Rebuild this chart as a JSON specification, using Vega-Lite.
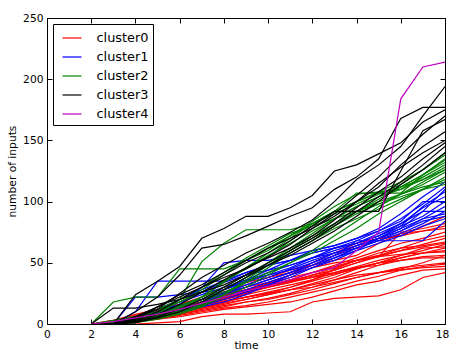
{
"$schema":"https://vega.github.io/schema/vega-lite/v6.json",
"width":398,"height":306,
"autosize":{"type":"none"},
"padding":{"left":47,"top":18,"right":4,"bottom":27},
"background":"white",
"config":{
"view":{"stroke":"black","strokeWidth":1},
"font":"DejaVu Sans",
"axis":{"grid":false,"domain":false,"tickColor":"black","tickSize":-5,"labelColor":"black","labelFont":"DejaVu Sans","labelFontSize":10.7,"titleFont":"DejaVu Sans","titleFontSize":10.7,"titleFontWeight":"normal","titleColor":"black"},
"legend":{"orient":"top-left","offset":6,"strokeColor":"black","fillColor":"white","padding":3.5,"symbolType":"stroke","symbolSize":361,"symbolStrokeWidth":1.2,"labelFontSize":12.9,"labelFont":"DejaVu Sans","labelColor":"black","labelOffset":14,"rowPadding":1,"symbolOffset":5,"cornerRadius":0}
},
"layer":[
{"data":{"values":[
{"c":0,"l":1,"t":2,"v":0},{"c":0,"l":1,"t":3,"v":0},{"c":0,"l":1,"t":4,"v":0},{"c":0,"l":1,"t":5,"v":1},{"c":0,"l":1,"t":6,"v":2},{"c":0,"l":1,"t":7,"v":6},{"c":0,"l":1,"t":8,"v":8},{"c":0,"l":1,"t":9,"v":8},{"c":0,"l":1,"t":10,"v":9},{"c":0,"l":1,"t":11,"v":10},{"c":0,"l":1,"t":12,"v":18},{"c":0,"l":1,"t":13,"v":21},{"c":0,"l":1,"t":14,"v":22},{"c":0,"l":1,"t":15,"v":23},{"c":0,"l":1,"t":16,"v":28},{"c":0,"l":1,"t":17,"v":38},{"c":0,"l":1,"t":18,"v":42},
{"c":0,"l":2,"t":2,"v":0},{"c":0,"l":2,"t":3,"v":0},{"c":0,"l":2,"t":4,"v":2},{"c":0,"l":2,"t":5,"v":4},{"c":0,"l":2,"t":6,"v":6},{"c":0,"l":2,"t":7,"v":9},{"c":0,"l":2,"t":8,"v":12},{"c":0,"l":2,"t":9,"v":14},{"c":0,"l":2,"t":10,"v":16},{"c":0,"l":2,"t":11,"v":18},{"c":0,"l":2,"t":12,"v":22},{"c":0,"l":2,"t":13,"v":27},{"c":0,"l":2,"t":14,"v":32},{"c":0,"l":2,"t":15,"v":35},{"c":0,"l":2,"t":16,"v":40},{"c":0,"l":2,"t":17,"v":44},{"c":0,"l":2,"t":18,"v":45},
{"c":0,"l":3,"t":2,"v":0},{"c":0,"l":3,"t":3,"v":1},{"c":0,"l":3,"t":4,"v":3},{"c":0,"l":3,"t":5,"v":5},{"c":0,"l":3,"t":6,"v":8},{"c":0,"l":3,"t":7,"v":11},{"c":0,"l":3,"t":8,"v":14},{"c":0,"l":3,"t":9,"v":18},{"c":0,"l":3,"t":10,"v":20},{"c":0,"l":3,"t":11,"v":24},{"c":0,"l":3,"t":12,"v":28},{"c":0,"l":3,"t":13,"v":33},{"c":0,"l":3,"t":14,"v":38},{"c":0,"l":3,"t":15,"v":42},{"c":0,"l":3,"t":16,"v":46},{"c":0,"l":3,"t":17,"v":48},{"c":0,"l":3,"t":18,"v":50},
{"c":0,"l":4,"t":2,"v":0},{"c":0,"l":4,"t":3,"v":0},{"c":0,"l":4,"t":4,"v":2},{"c":0,"l":4,"t":5,"v":4},{"c":0,"l":4,"t":6,"v":7},{"c":0,"l":4,"t":7,"v":10},{"c":0,"l":4,"t":8,"v":13},{"c":0,"l":4,"t":9,"v":15},{"c":0,"l":4,"t":10,"v":18},{"c":0,"l":4,"t":11,"v":22},{"c":0,"l":4,"t":12,"v":26},{"c":0,"l":4,"t":13,"v":30},{"c":0,"l":4,"t":14,"v":35},{"c":0,"l":4,"t":15,"v":39},{"c":0,"l":4,"t":16,"v":44},{"c":0,"l":4,"t":17,"v":47},{"c":0,"l":4,"t":18,"v":49},
{"c":0,"l":5,"t":2,"v":0},{"c":0,"l":5,"t":3,"v":2},{"c":0,"l":5,"t":4,"v":4},{"c":0,"l":5,"t":5,"v":7},{"c":0,"l":5,"t":6,"v":10},{"c":0,"l":5,"t":7,"v":13},{"c":0,"l":5,"t":8,"v":17},{"c":0,"l":5,"t":9,"v":20},{"c":0,"l":5,"t":10,"v":24},{"c":0,"l":5,"t":11,"v":28},{"c":0,"l":5,"t":12,"v":33},{"c":0,"l":5,"t":13,"v":38},{"c":0,"l":5,"t":14,"v":45},{"c":0,"l":5,"t":15,"v":50},{"c":0,"l":5,"t":16,"v":52},{"c":0,"l":5,"t":17,"v":55},{"c":0,"l":5,"t":18,"v":56},
{"c":0,"l":6,"t":2,"v":0},{"c":0,"l":6,"t":3,"v":1},{"c":0,"l":6,"t":4,"v":4},{"c":0,"l":6,"t":5,"v":6},{"c":0,"l":6,"t":6,"v":9},{"c":0,"l":6,"t":7,"v":13},{"c":0,"l":6,"t":8,"v":16},{"c":0,"l":6,"t":9,"v":20},{"c":0,"l":6,"t":10,"v":24},{"c":0,"l":6,"t":11,"v":28},{"c":0,"l":6,"t":12,"v":32},{"c":0,"l":6,"t":13,"v":36},{"c":0,"l":6,"t":14,"v":40},{"c":0,"l":6,"t":15,"v":42},{"c":0,"l":6,"t":16,"v":45},{"c":0,"l":6,"t":17,"v":50},{"c":0,"l":6,"t":18,"v":56},
{"c":0,"l":7,"t":2,"v":0},{"c":0,"l":7,"t":3,"v":0},{"c":0,"l":7,"t":4,"v":3},{"c":0,"l":7,"t":5,"v":6},{"c":0,"l":7,"t":6,"v":10},{"c":0,"l":7,"t":7,"v":14},{"c":0,"l":7,"t":8,"v":18},{"c":0,"l":7,"t":9,"v":22},{"c":0,"l":7,"t":10,"v":26},{"c":0,"l":7,"t":11,"v":30},{"c":0,"l":7,"t":12,"v":36},{"c":0,"l":7,"t":13,"v":45},{"c":0,"l":7,"t":14,"v":52},{"c":0,"l":7,"t":15,"v":55},{"c":0,"l":7,"t":16,"v":57},{"c":0,"l":7,"t":17,"v":58},{"c":0,"l":7,"t":18,"v":59},
{"c":0,"l":8,"t":2,"v":0},{"c":0,"l":8,"t":3,"v":2},{"c":0,"l":8,"t":4,"v":5},{"c":0,"l":8,"t":5,"v":9},{"c":0,"l":8,"t":6,"v":12},{"c":0,"l":8,"t":7,"v":16},{"c":0,"l":8,"t":8,"v":20},{"c":0,"l":8,"t":9,"v":24},{"c":0,"l":8,"t":10,"v":28},{"c":0,"l":8,"t":11,"v":32},{"c":0,"l":8,"t":12,"v":36},{"c":0,"l":8,"t":13,"v":42},{"c":0,"l":8,"t":14,"v":46},{"c":0,"l":8,"t":15,"v":48},{"c":0,"l":8,"t":16,"v":54},{"c":0,"l":8,"t":17,"v":58},{"c":0,"l":8,"t":18,"v":60},
{"c":0,"l":9,"t":2,"v":0},{"c":0,"l":9,"t":3,"v":1},{"c":0,"l":9,"t":4,"v":3},{"c":0,"l":9,"t":5,"v":6},{"c":0,"l":9,"t":6,"v":10},{"c":0,"l":9,"t":7,"v":16},{"c":0,"l":9,"t":8,"v":21},{"c":0,"l":9,"t":9,"v":26},{"c":0,"l":9,"t":10,"v":30},{"c":0,"l":9,"t":11,"v":34},{"c":0,"l":9,"t":12,"v":38},{"c":0,"l":9,"t":13,"v":41},{"c":0,"l":9,"t":14,"v":45},{"c":0,"l":9,"t":15,"v":50},{"c":0,"l":9,"t":16,"v":56},{"c":0,"l":9,"t":17,"v":62},{"c":0,"l":9,"t":18,"v":63},
{"c":0,"l":10,"t":2,"v":0},{"c":0,"l":10,"t":3,"v":0},{"c":0,"l":10,"t":4,"v":4},{"c":0,"l":10,"t":5,"v":8},{"c":0,"l":10,"t":6,"v":12},{"c":0,"l":10,"t":7,"v":15},{"c":0,"l":10,"t":8,"v":19},{"c":0,"l":10,"t":9,"v":22},{"c":0,"l":10,"t":10,"v":25},{"c":0,"l":10,"t":11,"v":30},{"c":0,"l":10,"t":12,"v":35},{"c":0,"l":10,"t":13,"v":40},{"c":0,"l":10,"t":14,"v":46},{"c":0,"l":10,"t":15,"v":50},{"c":0,"l":10,"t":16,"v":54},{"c":0,"l":10,"t":17,"v":58},{"c":0,"l":10,"t":18,"v":62},
{"c":0,"l":11,"t":2,"v":0},{"c":0,"l":11,"t":3,"v":2},{"c":0,"l":11,"t":4,"v":6},{"c":0,"l":11,"t":5,"v":10},{"c":0,"l":11,"t":6,"v":14},{"c":0,"l":11,"t":7,"v":18},{"c":0,"l":11,"t":8,"v":22},{"c":0,"l":11,"t":9,"v":27},{"c":0,"l":11,"t":10,"v":32},{"c":0,"l":11,"t":11,"v":36},{"c":0,"l":11,"t":12,"v":39},{"c":0,"l":11,"t":13,"v":42},{"c":0,"l":11,"t":14,"v":47},{"c":0,"l":11,"t":15,"v":52},{"c":0,"l":11,"t":16,"v":56},{"c":0,"l":11,"t":17,"v":60},{"c":0,"l":11,"t":18,"v":65},
{"c":0,"l":12,"t":2,"v":0},{"c":0,"l":12,"t":3,"v":1},{"c":0,"l":12,"t":4,"v":5},{"c":0,"l":12,"t":5,"v":9},{"c":0,"l":12,"t":6,"v":14},{"c":0,"l":12,"t":7,"v":18},{"c":0,"l":12,"t":8,"v":22},{"c":0,"l":12,"t":9,"v":26},{"c":0,"l":12,"t":10,"v":30},{"c":0,"l":12,"t":11,"v":34},{"c":0,"l":12,"t":12,"v":40},{"c":0,"l":12,"t":13,"v":46},{"c":0,"l":12,"t":14,"v":52},{"c":0,"l":12,"t":15,"v":58},{"c":0,"l":12,"t":16,"v":62},{"c":0,"l":12,"t":17,"v":64},{"c":0,"l":12,"t":18,"v":67},
{"c":0,"l":13,"t":2,"v":0},{"c":0,"l":13,"t":3,"v":0},{"c":0,"l":13,"t":4,"v":3},{"c":0,"l":13,"t":5,"v":7},{"c":0,"l":13,"t":6,"v":11},{"c":0,"l":13,"t":7,"v":16},{"c":0,"l":13,"t":8,"v":20},{"c":0,"l":13,"t":9,"v":25},{"c":0,"l":13,"t":10,"v":30},{"c":0,"l":13,"t":11,"v":35},{"c":0,"l":13,"t":12,"v":40},{"c":0,"l":13,"t":13,"v":44},{"c":0,"l":13,"t":14,"v":50},{"c":0,"l":13,"t":15,"v":55},{"c":0,"l":13,"t":16,"v":60},{"c":0,"l":13,"t":17,"v":63},{"c":0,"l":13,"t":18,"v":66},
{"c":0,"l":14,"t":2,"v":0},{"c":0,"l":14,"t":3,"v":2},{"c":0,"l":14,"t":4,"v":6},{"c":0,"l":14,"t":5,"v":11},{"c":0,"l":14,"t":6,"v":16},{"c":0,"l":14,"t":7,"v":20},{"c":0,"l":14,"t":8,"v":24},{"c":0,"l":14,"t":9,"v":28},{"c":0,"l":14,"t":10,"v":32},{"c":0,"l":14,"t":11,"v":35},{"c":0,"l":14,"t":12,"v":38},{"c":0,"l":14,"t":13,"v":44},{"c":0,"l":14,"t":14,"v":50},{"c":0,"l":14,"t":15,"v":56},{"c":0,"l":14,"t":16,"v":60},{"c":0,"l":14,"t":17,"v":65},{"c":0,"l":14,"t":18,"v":70},
{"c":0,"l":15,"t":2,"v":0},{"c":0,"l":15,"t":3,"v":1},{"c":0,"l":15,"t":4,"v":4},{"c":0,"l":15,"t":5,"v":8},{"c":0,"l":15,"t":6,"v":12},{"c":0,"l":15,"t":7,"v":17},{"c":0,"l":15,"t":8,"v":23},{"c":0,"l":15,"t":9,"v":28},{"c":0,"l":15,"t":10,"v":33},{"c":0,"l":15,"t":11,"v":38},{"c":0,"l":15,"t":12,"v":42},{"c":0,"l":15,"t":13,"v":47},{"c":0,"l":15,"t":14,"v":52},{"c":0,"l":15,"t":15,"v":56},{"c":0,"l":15,"t":16,"v":62},{"c":0,"l":15,"t":17,"v":68},{"c":0,"l":15,"t":18,"v":72},
{"c":0,"l":16,"t":2,"v":0},{"c":0,"l":16,"t":3,"v":3},{"c":0,"l":16,"t":4,"v":7},{"c":0,"l":16,"t":5,"v":11},{"c":0,"l":16,"t":6,"v":15},{"c":0,"l":16,"t":7,"v":18},{"c":0,"l":16,"t":8,"v":21},{"c":0,"l":16,"t":9,"v":26},{"c":0,"l":16,"t":10,"v":31},{"c":0,"l":16,"t":11,"v":36},{"c":0,"l":16,"t":12,"v":42},{"c":0,"l":16,"t":13,"v":48},{"c":0,"l":16,"t":14,"v":54},{"c":0,"l":16,"t":15,"v":60},{"c":0,"l":16,"t":16,"v":66},{"c":0,"l":16,"t":17,"v":70},{"c":0,"l":16,"t":18,"v":75},
{"c":0,"l":17,"t":2,"v":0},{"c":0,"l":17,"t":3,"v":2},{"c":0,"l":17,"t":4,"v":6},{"c":0,"l":17,"t":5,"v":10},{"c":0,"l":17,"t":6,"v":15},{"c":0,"l":17,"t":7,"v":20},{"c":0,"l":17,"t":8,"v":25},{"c":0,"l":17,"t":9,"v":30},{"c":0,"l":17,"t":10,"v":34},{"c":0,"l":17,"t":11,"v":40},{"c":0,"l":17,"t":12,"v":50},{"c":0,"l":17,"t":13,"v":58},{"c":0,"l":17,"t":14,"v":66},{"c":0,"l":17,"t":15,"v":70},{"c":0,"l":17,"t":16,"v":72},{"c":0,"l":17,"t":17,"v":76},{"c":0,"l":17,"t":18,"v":78},
{"c":0,"l":18,"t":2,"v":0},{"c":0,"l":18,"t":3,"v":0},{"c":0,"l":18,"t":4,"v":4},{"c":0,"l":18,"t":5,"v":9},{"c":0,"l":18,"t":6,"v":14},{"c":0,"l":18,"t":7,"v":18},{"c":0,"l":18,"t":8,"v":24},{"c":0,"l":18,"t":9,"v":28},{"c":0,"l":18,"t":10,"v":33},{"c":0,"l":18,"t":11,"v":40},{"c":0,"l":18,"t":12,"v":46},{"c":0,"l":18,"t":13,"v":50},{"c":0,"l":18,"t":14,"v":52},{"c":0,"l":18,"t":15,"v":55},{"c":0,"l":18,"t":16,"v":75},{"c":0,"l":18,"t":17,"v":78},{"c":0,"l":18,"t":18,"v":82},
{"c":0,"l":19,"t":2,"v":0},{"c":0,"l":19,"t":3,"v":3},{"c":0,"l":19,"t":4,"v":8},{"c":0,"l":19,"t":5,"v":12},{"c":0,"l":19,"t":6,"v":16},{"c":0,"l":19,"t":7,"v":22},{"c":0,"l":19,"t":8,"v":30},{"c":0,"l":19,"t":9,"v":34},{"c":0,"l":19,"t":10,"v":38},{"c":0,"l":19,"t":11,"v":42},{"c":0,"l":19,"t":12,"v":48},{"c":0,"l":19,"t":13,"v":56},{"c":0,"l":19,"t":14,"v":64},{"c":0,"l":19,"t":15,"v":70},{"c":0,"l":19,"t":16,"v":72},{"c":0,"l":19,"t":17,"v":80},{"c":0,"l":19,"t":18,"v":88},
{"c":0,"l":20,"t":2,"v":0},{"c":0,"l":20,"t":3,"v":1},{"c":0,"l":20,"t":4,"v":5},{"c":0,"l":20,"t":5,"v":10},{"c":0,"l":20,"t":6,"v":15},{"c":0,"l":20,"t":7,"v":20},{"c":0,"l":20,"t":8,"v":26},{"c":0,"l":20,"t":9,"v":32},{"c":0,"l":20,"t":10,"v":38},{"c":0,"l":20,"t":11,"v":44},{"c":0,"l":20,"t":12,"v":48},{"c":0,"l":20,"t":13,"v":52},{"c":0,"l":20,"t":14,"v":56},{"c":0,"l":20,"t":15,"v":66},{"c":0,"l":20,"t":16,"v":74},{"c":0,"l":20,"t":17,"v":76},{"c":0,"l":20,"t":18,"v":80},
{"c":0,"l":21,"t":2,"v":0},{"c":0,"l":21,"t":3,"v":2},{"c":0,"l":21,"t":4,"v":5},{"c":0,"l":21,"t":5,"v":8},{"c":0,"l":21,"t":6,"v":12},{"c":0,"l":21,"t":7,"v":16},{"c":0,"l":21,"t":8,"v":18},{"c":0,"l":21,"t":9,"v":22},{"c":0,"l":21,"t":10,"v":25},{"c":0,"l":21,"t":11,"v":28},{"c":0,"l":21,"t":12,"v":30},{"c":0,"l":21,"t":13,"v":34},{"c":0,"l":21,"t":14,"v":38},{"c":0,"l":21,"t":15,"v":42},{"c":0,"l":21,"t":16,"v":44},{"c":0,"l":21,"t":17,"v":46},{"c":0,"l":21,"t":18,"v":47},
{"c":0,"l":22,"t":2,"v":0},{"c":0,"l":22,"t":3,"v":0},{"c":0,"l":22,"t":4,"v":2},{"c":0,"l":22,"t":5,"v":5},{"c":0,"l":22,"t":6,"v":8},{"c":0,"l":22,"t":7,"v":12},{"c":0,"l":22,"t":8,"v":15},{"c":0,"l":22,"t":9,"v":18},{"c":0,"l":22,"t":10,"v":21},{"c":0,"l":22,"t":11,"v":25},{"c":0,"l":22,"t":12,"v":30},{"c":0,"l":22,"t":13,"v":36},{"c":0,"l":22,"t":14,"v":42},{"c":0,"l":22,"t":15,"v":48},{"c":0,"l":22,"t":16,"v":52},{"c":0,"l":22,"t":17,"v":54},{"c":0,"l":22,"t":18,"v":54},
{"c":1,"l":23,"t":2,"v":0},{"c":1,"l":23,"t":3,"v":0},{"c":1,"l":23,"t":4,"v":10},{"c":1,"l":23,"t":5,"v":35},{"c":1,"l":23,"t":6,"v":35},{"c":1,"l":23,"t":7,"v":35},{"c":1,"l":23,"t":8,"v":35},{"c":1,"l":23,"t":9,"v":42},{"c":1,"l":23,"t":10,"v":48},{"c":1,"l":23,"t":11,"v":52},{"c":1,"l":23,"t":12,"v":58},{"c":1,"l":23,"t":13,"v":62},{"c":1,"l":23,"t":14,"v":66},{"c":1,"l":23,"t":15,"v":74},{"c":1,"l":23,"t":16,"v":82},{"c":1,"l":23,"t":17,"v":92},{"c":1,"l":23,"t":18,"v":92},
{"c":1,"l":24,"t":2,"v":0},{"c":1,"l":24,"t":3,"v":0},{"c":1,"l":24,"t":4,"v":5},{"c":1,"l":24,"t":5,"v":10},{"c":1,"l":24,"t":6,"v":16},{"c":1,"l":24,"t":7,"v":30},{"c":1,"l":24,"t":8,"v":50},{"c":1,"l":24,"t":9,"v":52},{"c":1,"l":24,"t":10,"v":52},{"c":1,"l":24,"t":11,"v":56},{"c":1,"l":24,"t":12,"v":60},{"c":1,"l":24,"t":13,"v":64},{"c":1,"l":24,"t":14,"v":70},{"c":1,"l":24,"t":15,"v":76},{"c":1,"l":24,"t":16,"v":84},{"c":1,"l":24,"t":17,"v":100},{"c":1,"l":24,"t":18,"v":100},
{"c":1,"l":25,"t":2,"v":0},{"c":1,"l":25,"t":3,"v":2},{"c":1,"l":25,"t":4,"v":6},{"c":1,"l":25,"t":5,"v":10},{"c":1,"l":25,"t":6,"v":15},{"c":1,"l":25,"t":7,"v":20},{"c":1,"l":25,"t":8,"v":28},{"c":1,"l":25,"t":9,"v":36},{"c":1,"l":25,"t":10,"v":44},{"c":1,"l":25,"t":11,"v":52},{"c":1,"l":25,"t":12,"v":60},{"c":1,"l":25,"t":13,"v":64},{"c":1,"l":25,"t":14,"v":70},{"c":1,"l":25,"t":15,"v":78},{"c":1,"l":25,"t":16,"v":90},{"c":1,"l":25,"t":17,"v":104},{"c":1,"l":25,"t":18,"v":116},
{"c":1,"l":26,"t":2,"v":0},{"c":1,"l":26,"t":3,"v":0},{"c":1,"l":26,"t":4,"v":3},{"c":1,"l":26,"t":5,"v":8},{"c":1,"l":26,"t":6,"v":12},{"c":1,"l":26,"t":7,"v":18},{"c":1,"l":26,"t":8,"v":25},{"c":1,"l":26,"t":9,"v":32},{"c":1,"l":26,"t":10,"v":38},{"c":1,"l":26,"t":11,"v":45},{"c":1,"l":26,"t":12,"v":52},{"c":1,"l":26,"t":13,"v":58},{"c":1,"l":26,"t":14,"v":64},{"c":1,"l":26,"t":15,"v":70},{"c":1,"l":26,"t":16,"v":78},{"c":1,"l":26,"t":17,"v":92},{"c":1,"l":26,"t":18,"v":110},
{"c":1,"l":27,"t":2,"v":0},{"c":1,"l":27,"t":3,"v":0},{"c":1,"l":27,"t":4,"v":4},{"c":1,"l":27,"t":5,"v":8},{"c":1,"l":27,"t":6,"v":14},{"c":1,"l":27,"t":7,"v":20},{"c":1,"l":27,"t":8,"v":26},{"c":1,"l":27,"t":9,"v":30},{"c":1,"l":27,"t":10,"v":36},{"c":1,"l":27,"t":11,"v":42},{"c":1,"l":27,"t":12,"v":48},{"c":1,"l":27,"t":13,"v":56},{"c":1,"l":27,"t":14,"v":68},{"c":1,"l":27,"t":15,"v":68},{"c":1,"l":27,"t":16,"v":68},{"c":1,"l":27,"t":17,"v":68},{"c":1,"l":27,"t":18,"v":84},
{"c":1,"l":28,"t":2,"v":0},{"c":1,"l":28,"t":3,"v":0},{"c":1,"l":28,"t":4,"v":2},{"c":1,"l":28,"t":5,"v":6},{"c":1,"l":28,"t":6,"v":12},{"c":1,"l":28,"t":7,"v":18},{"c":1,"l":28,"t":8,"v":24},{"c":1,"l":28,"t":9,"v":30},{"c":1,"l":28,"t":10,"v":36},{"c":1,"l":28,"t":11,"v":42},{"c":1,"l":28,"t":12,"v":50},{"c":1,"l":28,"t":13,"v":58},{"c":1,"l":28,"t":14,"v":64},{"c":1,"l":28,"t":15,"v":70},{"c":1,"l":28,"t":16,"v":76},{"c":1,"l":28,"t":17,"v":86},{"c":1,"l":28,"t":18,"v":96},
{"c":1,"l":29,"t":2,"v":0},{"c":1,"l":29,"t":3,"v":1},{"c":1,"l":29,"t":4,"v":4},{"c":1,"l":29,"t":5,"v":9},{"c":1,"l":29,"t":6,"v":14},{"c":1,"l":29,"t":7,"v":20},{"c":1,"l":29,"t":8,"v":28},{"c":1,"l":29,"t":9,"v":35},{"c":1,"l":29,"t":10,"v":42},{"c":1,"l":29,"t":11,"v":48},{"c":1,"l":29,"t":12,"v":54},{"c":1,"l":29,"t":13,"v":60},{"c":1,"l":29,"t":14,"v":66},{"c":1,"l":29,"t":15,"v":72},{"c":1,"l":29,"t":16,"v":80},{"c":1,"l":29,"t":17,"v":88},{"c":1,"l":29,"t":18,"v":100},
{"c":1,"l":30,"t":2,"v":0},{"c":1,"l":30,"t":3,"v":0},{"c":1,"l":30,"t":4,"v":6},{"c":1,"l":30,"t":5,"v":12},{"c":1,"l":30,"t":6,"v":18},{"c":1,"l":30,"t":7,"v":24},{"c":1,"l":30,"t":8,"v":30},{"c":1,"l":30,"t":9,"v":36},{"c":1,"l":30,"t":10,"v":40},{"c":1,"l":30,"t":11,"v":44},{"c":1,"l":30,"t":12,"v":50},{"c":1,"l":30,"t":13,"v":56},{"c":1,"l":30,"t":14,"v":62},{"c":1,"l":30,"t":15,"v":68},{"c":1,"l":30,"t":16,"v":74},{"c":1,"l":30,"t":17,"v":82},{"c":1,"l":30,"t":18,"v":92},
{"c":1,"l":31,"t":2,"v":0},{"c":1,"l":31,"t":3,"v":0},{"c":1,"l":31,"t":4,"v":2},{"c":1,"l":31,"t":5,"v":5},{"c":1,"l":31,"t":6,"v":10},{"c":1,"l":31,"t":7,"v":16},{"c":1,"l":31,"t":8,"v":22},{"c":1,"l":31,"t":9,"v":28},{"c":1,"l":31,"t":10,"v":34},{"c":1,"l":31,"t":11,"v":40},{"c":1,"l":31,"t":12,"v":46},{"c":1,"l":31,"t":13,"v":52},{"c":1,"l":31,"t":14,"v":60},{"c":1,"l":31,"t":15,"v":70},{"c":1,"l":31,"t":16,"v":80},{"c":1,"l":31,"t":17,"v":96},{"c":1,"l":31,"t":18,"v":108},
{"c":1,"l":32,"t":2,"v":0},{"c":1,"l":32,"t":3,"v":0},{"c":1,"l":32,"t":4,"v":3},{"c":1,"l":32,"t":5,"v":7},{"c":1,"l":32,"t":6,"v":11},{"c":1,"l":32,"t":7,"v":15},{"c":1,"l":32,"t":8,"v":20},{"c":1,"l":32,"t":9,"v":26},{"c":1,"l":32,"t":10,"v":32},{"c":1,"l":32,"t":11,"v":38},{"c":1,"l":32,"t":12,"v":46},{"c":1,"l":32,"t":13,"v":54},{"c":1,"l":32,"t":14,"v":62},{"c":1,"l":32,"t":15,"v":70},{"c":1,"l":32,"t":16,"v":78},{"c":1,"l":32,"t":17,"v":86},{"c":1,"l":32,"t":18,"v":90},
{"c":1,"l":33,"t":2,"v":0},{"c":1,"l":33,"t":3,"v":0},{"c":1,"l":33,"t":4,"v":4},{"c":1,"l":33,"t":5,"v":10},{"c":1,"l":33,"t":6,"v":18},{"c":1,"l":33,"t":7,"v":26},{"c":1,"l":33,"t":8,"v":34},{"c":1,"l":33,"t":9,"v":40},{"c":1,"l":33,"t":10,"v":44},{"c":1,"l":33,"t":11,"v":48},{"c":1,"l":33,"t":12,"v":54},{"c":1,"l":33,"t":13,"v":58},{"c":1,"l":33,"t":14,"v":62},{"c":1,"l":33,"t":15,"v":68},{"c":1,"l":33,"t":16,"v":76},{"c":1,"l":33,"t":17,"v":84},{"c":1,"l":33,"t":18,"v":88},
{"c":1,"l":34,"t":2,"v":0},{"c":1,"l":34,"t":3,"v":0},{"c":1,"l":34,"t":4,"v":2},{"c":1,"l":34,"t":5,"v":6},{"c":1,"l":34,"t":6,"v":10},{"c":1,"l":34,"t":7,"v":14},{"c":1,"l":34,"t":8,"v":18},{"c":1,"l":34,"t":9,"v":24},{"c":1,"l":34,"t":10,"v":32},{"c":1,"l":34,"t":11,"v":40},{"c":1,"l":34,"t":12,"v":48},{"c":1,"l":34,"t":13,"v":54},{"c":1,"l":34,"t":14,"v":60},{"c":1,"l":34,"t":15,"v":66},{"c":1,"l":34,"t":16,"v":72},{"c":1,"l":34,"t":17,"v":80},{"c":1,"l":34,"t":18,"v":86},
{"c":1,"l":35,"t":2,"v":0},{"c":1,"l":35,"t":3,"v":1},{"c":1,"l":35,"t":4,"v":5},{"c":1,"l":35,"t":5,"v":12},{"c":1,"l":35,"t":6,"v":20},{"c":1,"l":35,"t":7,"v":28},{"c":1,"l":35,"t":8,"v":35},{"c":1,"l":35,"t":9,"v":42},{"c":1,"l":35,"t":10,"v":48},{"c":1,"l":35,"t":11,"v":52},{"c":1,"l":35,"t":12,"v":58},{"c":1,"l":35,"t":13,"v":62},{"c":1,"l":35,"t":14,"v":66},{"c":1,"l":35,"t":15,"v":72},{"c":1,"l":35,"t":16,"v":82},{"c":1,"l":35,"t":17,"v":95},{"c":1,"l":35,"t":18,"v":104},
{"c":1,"l":36,"t":2,"v":0},{"c":1,"l":36,"t":3,"v":0},{"c":1,"l":36,"t":4,"v":22},{"c":1,"l":36,"t":5,"v":22},{"c":1,"l":36,"t":6,"v":24},{"c":1,"l":36,"t":7,"v":26},{"c":1,"l":36,"t":8,"v":28},{"c":1,"l":36,"t":9,"v":34},{"c":1,"l":36,"t":10,"v":40},{"c":1,"l":36,"t":11,"v":46},{"c":1,"l":36,"t":12,"v":54},{"c":1,"l":36,"t":13,"v":62},{"c":1,"l":36,"t":14,"v":68},{"c":1,"l":36,"t":15,"v":76},{"c":1,"l":36,"t":16,"v":86},{"c":1,"l":36,"t":17,"v":98},{"c":1,"l":36,"t":18,"v":112},
{"c":2,"l":37,"t":2,"v":0},{"c":2,"l":37,"t":3,"v":18},{"c":2,"l":37,"t":4,"v":22},{"c":2,"l":37,"t":5,"v":22},{"c":2,"l":37,"t":6,"v":45},{"c":2,"l":37,"t":7,"v":45},{"c":2,"l":37,"t":8,"v":45},{"c":2,"l":37,"t":9,"v":52},{"c":2,"l":37,"t":10,"v":60},{"c":2,"l":37,"t":11,"v":72},{"c":2,"l":37,"t":12,"v":84},{"c":2,"l":37,"t":13,"v":96},{"c":2,"l":37,"t":14,"v":106},{"c":2,"l":37,"t":15,"v":108},{"c":2,"l":37,"t":16,"v":110},{"c":2,"l":37,"t":17,"v":120},{"c":2,"l":37,"t":18,"v":130},
{"c":2,"l":38,"t":2,"v":0},{"c":2,"l":38,"t":3,"v":0},{"c":2,"l":38,"t":4,"v":2},{"c":2,"l":38,"t":5,"v":8},{"c":2,"l":38,"t":6,"v":20},{"c":2,"l":38,"t":7,"v":51},{"c":2,"l":38,"t":8,"v":66},{"c":2,"l":38,"t":9,"v":77},{"c":2,"l":38,"t":10,"v":77},{"c":2,"l":38,"t":11,"v":77},{"c":2,"l":38,"t":12,"v":82},{"c":2,"l":38,"t":13,"v":92},{"c":2,"l":38,"t":14,"v":100},{"c":2,"l":38,"t":15,"v":107},{"c":2,"l":38,"t":16,"v":112},{"c":2,"l":38,"t":17,"v":118},{"c":2,"l":38,"t":18,"v":126},
{"c":2,"l":39,"t":2,"v":0},{"c":2,"l":39,"t":3,"v":0},{"c":2,"l":39,"t":4,"v":1},{"c":2,"l":39,"t":5,"v":5},{"c":2,"l":39,"t":6,"v":12},{"c":2,"l":39,"t":7,"v":22},{"c":2,"l":39,"t":8,"v":35},{"c":2,"l":39,"t":9,"v":45},{"c":2,"l":39,"t":10,"v":55},{"c":2,"l":39,"t":11,"v":68},{"c":2,"l":39,"t":12,"v":80},{"c":2,"l":39,"t":13,"v":92},{"c":2,"l":39,"t":14,"v":107},{"c":2,"l":39,"t":15,"v":107},{"c":2,"l":39,"t":16,"v":107},{"c":2,"l":39,"t":17,"v":122},{"c":2,"l":39,"t":18,"v":135},
{"c":2,"l":40,"t":2,"v":0},{"c":2,"l":40,"t":3,"v":3},{"c":2,"l":40,"t":4,"v":6},{"c":2,"l":40,"t":5,"v":10},{"c":2,"l":40,"t":6,"v":15},{"c":2,"l":40,"t":7,"v":22},{"c":2,"l":40,"t":8,"v":30},{"c":2,"l":40,"t":9,"v":40},{"c":2,"l":40,"t":10,"v":50},{"c":2,"l":40,"t":11,"v":60},{"c":2,"l":40,"t":12,"v":70},{"c":2,"l":40,"t":13,"v":80},{"c":2,"l":40,"t":14,"v":90},{"c":2,"l":40,"t":15,"v":98},{"c":2,"l":40,"t":16,"v":106},{"c":2,"l":40,"t":17,"v":114},{"c":2,"l":40,"t":18,"v":124},
{"c":2,"l":41,"t":2,"v":0},{"c":2,"l":41,"t":3,"v":0},{"c":2,"l":41,"t":4,"v":3},{"c":2,"l":41,"t":5,"v":7},{"c":2,"l":41,"t":6,"v":12},{"c":2,"l":41,"t":7,"v":18},{"c":2,"l":41,"t":8,"v":28},{"c":2,"l":41,"t":9,"v":38},{"c":2,"l":41,"t":10,"v":50},{"c":2,"l":41,"t":11,"v":62},{"c":2,"l":41,"t":12,"v":74},{"c":2,"l":41,"t":13,"v":86},{"c":2,"l":41,"t":14,"v":96},{"c":2,"l":41,"t":15,"v":104},{"c":2,"l":41,"t":16,"v":110},{"c":2,"l":41,"t":17,"v":118},{"c":2,"l":41,"t":18,"v":128},
{"c":2,"l":42,"t":2,"v":0},{"c":2,"l":42,"t":3,"v":2},{"c":2,"l":42,"t":4,"v":5},{"c":2,"l":42,"t":5,"v":9},{"c":2,"l":42,"t":6,"v":14},{"c":2,"l":42,"t":7,"v":20},{"c":2,"l":42,"t":8,"v":28},{"c":2,"l":42,"t":9,"v":38},{"c":2,"l":42,"t":10,"v":48},{"c":2,"l":42,"t":11,"v":58},{"c":2,"l":42,"t":12,"v":68},{"c":2,"l":42,"t":13,"v":80},{"c":2,"l":42,"t":14,"v":92},{"c":2,"l":42,"t":15,"v":102},{"c":2,"l":42,"t":16,"v":112},{"c":2,"l":42,"t":17,"v":122},{"c":2,"l":42,"t":18,"v":132},
{"c":2,"l":43,"t":2,"v":0},{"c":2,"l":43,"t":3,"v":0},{"c":2,"l":43,"t":4,"v":4},{"c":2,"l":43,"t":5,"v":8},{"c":2,"l":43,"t":6,"v":13},{"c":2,"l":43,"t":7,"v":22},{"c":2,"l":43,"t":8,"v":34},{"c":2,"l":43,"t":9,"v":46},{"c":2,"l":43,"t":10,"v":58},{"c":2,"l":43,"t":11,"v":70},{"c":2,"l":43,"t":12,"v":82},{"c":2,"l":43,"t":13,"v":92},{"c":2,"l":43,"t":14,"v":100},{"c":2,"l":43,"t":15,"v":108},{"c":2,"l":43,"t":16,"v":116},{"c":2,"l":43,"t":17,"v":126},{"c":2,"l":43,"t":18,"v":138},
{"c":2,"l":44,"t":2,"v":0},{"c":2,"l":44,"t":3,"v":1},{"c":2,"l":44,"t":4,"v":3},{"c":2,"l":44,"t":5,"v":6},{"c":2,"l":44,"t":6,"v":10},{"c":2,"l":44,"t":7,"v":16},{"c":2,"l":44,"t":8,"v":24},{"c":2,"l":44,"t":9,"v":34},{"c":2,"l":44,"t":10,"v":46},{"c":2,"l":44,"t":11,"v":58},{"c":2,"l":44,"t":12,"v":68},{"c":2,"l":44,"t":13,"v":78},{"c":2,"l":44,"t":14,"v":86},{"c":2,"l":44,"t":15,"v":94},{"c":2,"l":44,"t":16,"v":102},{"c":2,"l":44,"t":17,"v":110},{"c":2,"l":44,"t":18,"v":120},
{"c":2,"l":45,"t":2,"v":0},{"c":2,"l":45,"t":3,"v":0},{"c":2,"l":45,"t":4,"v":2},{"c":2,"l":45,"t":5,"v":5},{"c":2,"l":45,"t":6,"v":9},{"c":2,"l":45,"t":7,"v":15},{"c":2,"l":45,"t":8,"v":22},{"c":2,"l":45,"t":9,"v":30},{"c":2,"l":45,"t":10,"v":40},{"c":2,"l":45,"t":11,"v":50},{"c":2,"l":45,"t":12,"v":60},{"c":2,"l":45,"t":13,"v":72},{"c":2,"l":45,"t":14,"v":84},{"c":2,"l":45,"t":15,"v":96},{"c":2,"l":45,"t":16,"v":106},{"c":2,"l":45,"t":17,"v":116},{"c":2,"l":45,"t":18,"v":126},
{"c":2,"l":46,"t":2,"v":0},{"c":2,"l":46,"t":3,"v":2},{"c":2,"l":46,"t":4,"v":6},{"c":2,"l":46,"t":5,"v":12},{"c":2,"l":46,"t":6,"v":18},{"c":2,"l":46,"t":7,"v":26},{"c":2,"l":46,"t":8,"v":36},{"c":2,"l":46,"t":9,"v":46},{"c":2,"l":46,"t":10,"v":56},{"c":2,"l":46,"t":11,"v":66},{"c":2,"l":46,"t":12,"v":76},{"c":2,"l":46,"t":13,"v":86},{"c":2,"l":46,"t":14,"v":96},{"c":2,"l":46,"t":15,"v":104},{"c":2,"l":46,"t":16,"v":112},{"c":2,"l":46,"t":17,"v":122},{"c":2,"l":46,"t":18,"v":134},
{"c":2,"l":47,"t":2,"v":0},{"c":2,"l":47,"t":3,"v":0},{"c":2,"l":47,"t":4,"v":1},{"c":2,"l":47,"t":5,"v":4},{"c":2,"l":47,"t":6,"v":8},{"c":2,"l":47,"t":7,"v":14},{"c":2,"l":47,"t":8,"v":24},{"c":2,"l":47,"t":9,"v":36},{"c":2,"l":47,"t":10,"v":48},{"c":2,"l":47,"t":11,"v":60},{"c":2,"l":47,"t":12,"v":72},{"c":2,"l":47,"t":13,"v":82},{"c":2,"l":47,"t":14,"v":92},{"c":2,"l":47,"t":15,"v":100},{"c":2,"l":47,"t":16,"v":106},{"c":2,"l":47,"t":17,"v":112},{"c":2,"l":47,"t":18,"v":116},
{"c":2,"l":48,"t":2,"v":0},{"c":2,"l":48,"t":3,"v":1},{"c":2,"l":48,"t":4,"v":4},{"c":2,"l":48,"t":5,"v":10},{"c":2,"l":48,"t":6,"v":18},{"c":2,"l":48,"t":7,"v":28},{"c":2,"l":48,"t":8,"v":40},{"c":2,"l":48,"t":9,"v":52},{"c":2,"l":48,"t":10,"v":62},{"c":2,"l":48,"t":11,"v":72},{"c":2,"l":48,"t":12,"v":82},{"c":2,"l":48,"t":13,"v":90},{"c":2,"l":48,"t":14,"v":98},{"c":2,"l":48,"t":15,"v":106},{"c":2,"l":48,"t":16,"v":114},{"c":2,"l":48,"t":17,"v":126},{"c":2,"l":48,"t":18,"v":140},
{"c":2,"l":49,"t":2,"v":0},{"c":2,"l":49,"t":3,"v":0},{"c":2,"l":49,"t":4,"v":2},{"c":2,"l":49,"t":5,"v":6},{"c":2,"l":49,"t":6,"v":11},{"c":2,"l":49,"t":7,"v":18},{"c":2,"l":49,"t":8,"v":26},{"c":2,"l":49,"t":9,"v":34},{"c":2,"l":49,"t":10,"v":42},{"c":2,"l":49,"t":11,"v":50},{"c":2,"l":49,"t":12,"v":58},{"c":2,"l":49,"t":13,"v":68},{"c":2,"l":49,"t":14,"v":78},{"c":2,"l":49,"t":15,"v":90},{"c":2,"l":49,"t":16,"v":100},{"c":2,"l":49,"t":17,"v":110},{"c":2,"l":49,"t":18,"v":118},
{"c":2,"l":50,"t":2,"v":0},{"c":2,"l":50,"t":3,"v":0},{"c":2,"l":50,"t":4,"v":5},{"c":2,"l":50,"t":5,"v":12},{"c":2,"l":50,"t":6,"v":20},{"c":2,"l":50,"t":7,"v":30},{"c":2,"l":50,"t":8,"v":42},{"c":2,"l":50,"t":9,"v":54},{"c":2,"l":50,"t":10,"v":64},{"c":2,"l":50,"t":11,"v":74},{"c":2,"l":50,"t":12,"v":80},{"c":2,"l":50,"t":13,"v":86},{"c":2,"l":50,"t":14,"v":92},{"c":2,"l":50,"t":15,"v":98},{"c":2,"l":50,"t":16,"v":104},{"c":2,"l":50,"t":17,"v":110},{"c":2,"l":50,"t":18,"v":114},
{"c":3,"l":51,"t":2,"v":0},{"c":3,"l":51,"t":3,"v":0},{"c":3,"l":51,"t":4,"v":24},{"c":3,"l":51,"t":5,"v":35},{"c":3,"l":51,"t":6,"v":47},{"c":3,"l":51,"t":7,"v":70},{"c":3,"l":51,"t":8,"v":78},{"c":3,"l":51,"t":9,"v":88},{"c":3,"l":51,"t":10,"v":88},{"c":3,"l":51,"t":11,"v":95},{"c":3,"l":51,"t":12,"v":105},{"c":3,"l":51,"t":13,"v":125},{"c":3,"l":51,"t":14,"v":130},{"c":3,"l":51,"t":15,"v":139},{"c":3,"l":51,"t":16,"v":148},{"c":3,"l":51,"t":17,"v":165},{"c":3,"l":51,"t":18,"v":175},
{"c":3,"l":52,"t":2,"v":0},{"c":3,"l":52,"t":3,"v":0},{"c":3,"l":52,"t":4,"v":10},{"c":3,"l":52,"t":5,"v":22},{"c":3,"l":52,"t":6,"v":40},{"c":3,"l":52,"t":7,"v":62},{"c":3,"l":52,"t":8,"v":65},{"c":3,"l":52,"t":9,"v":72},{"c":3,"l":52,"t":10,"v":80},{"c":3,"l":52,"t":11,"v":88},{"c":3,"l":52,"t":12,"v":95},{"c":3,"l":52,"t":13,"v":110},{"c":3,"l":52,"t":14,"v":120},{"c":3,"l":52,"t":15,"v":135},{"c":3,"l":52,"t":16,"v":168},{"c":3,"l":52,"t":17,"v":177},{"c":3,"l":52,"t":18,"v":177},
{"c":3,"l":53,"t":2,"v":0},{"c":3,"l":53,"t":3,"v":0},{"c":3,"l":53,"t":4,"v":5},{"c":3,"l":53,"t":5,"v":12},{"c":3,"l":53,"t":6,"v":25},{"c":3,"l":53,"t":7,"v":38},{"c":3,"l":53,"t":8,"v":48},{"c":3,"l":53,"t":9,"v":58},{"c":3,"l":53,"t":10,"v":66},{"c":3,"l":53,"t":11,"v":75},{"c":3,"l":53,"t":12,"v":85},{"c":3,"l":53,"t":13,"v":100},{"c":3,"l":53,"t":14,"v":118},{"c":3,"l":53,"t":15,"v":130},{"c":3,"l":53,"t":16,"v":145},{"c":3,"l":53,"t":17,"v":170},{"c":3,"l":53,"t":18,"v":194},
{"c":3,"l":54,"t":2,"v":0},{"c":3,"l":54,"t":3,"v":0},{"c":3,"l":54,"t":4,"v":3},{"c":3,"l":54,"t":5,"v":10},{"c":3,"l":54,"t":6,"v":20},{"c":3,"l":54,"t":7,"v":30},{"c":3,"l":54,"t":8,"v":40},{"c":3,"l":54,"t":9,"v":50},{"c":3,"l":54,"t":10,"v":58},{"c":3,"l":54,"t":11,"v":68},{"c":3,"l":54,"t":12,"v":80},{"c":3,"l":54,"t":13,"v":92},{"c":3,"l":54,"t":14,"v":92},{"c":3,"l":54,"t":15,"v":92},{"c":3,"l":54,"t":16,"v":125},{"c":3,"l":54,"t":17,"v":158},{"c":3,"l":54,"t":18,"v":167},
{"c":3,"l":55,"t":2,"v":0},{"c":3,"l":55,"t":3,"v":0},{"c":3,"l":55,"t":4,"v":2},{"c":3,"l":55,"t":5,"v":8},{"c":3,"l":55,"t":6,"v":16},{"c":3,"l":55,"t":7,"v":26},{"c":3,"l":55,"t":8,"v":36},{"c":3,"l":55,"t":9,"v":46},{"c":3,"l":55,"t":10,"v":54},{"c":3,"l":55,"t":11,"v":62},{"c":3,"l":55,"t":12,"v":72},{"c":3,"l":55,"t":13,"v":85},{"c":3,"l":55,"t":14,"v":100},{"c":3,"l":55,"t":15,"v":112},{"c":3,"l":55,"t":16,"v":130},{"c":3,"l":55,"t":17,"v":145},{"c":3,"l":55,"t":18,"v":157},
{"c":3,"l":56,"t":2,"v":0},{"c":3,"l":56,"t":3,"v":0},{"c":3,"l":56,"t":4,"v":4},{"c":3,"l":56,"t":5,"v":14},{"c":3,"l":56,"t":6,"v":24},{"c":3,"l":56,"t":7,"v":32},{"c":3,"l":56,"t":8,"v":42},{"c":3,"l":56,"t":9,"v":52},{"c":3,"l":56,"t":10,"v":62},{"c":3,"l":56,"t":11,"v":70},{"c":3,"l":56,"t":12,"v":78},{"c":3,"l":56,"t":13,"v":88},{"c":3,"l":56,"t":14,"v":100},{"c":3,"l":56,"t":15,"v":115},{"c":3,"l":56,"t":16,"v":128},{"c":3,"l":56,"t":17,"v":140},{"c":3,"l":56,"t":18,"v":150},
{"c":3,"l":57,"t":2,"v":0},{"c":3,"l":57,"t":3,"v":0},{"c":3,"l":57,"t":4,"v":2},{"c":3,"l":57,"t":5,"v":6},{"c":3,"l":57,"t":6,"v":12},{"c":3,"l":57,"t":7,"v":20},{"c":3,"l":57,"t":8,"v":30},{"c":3,"l":57,"t":9,"v":40},{"c":3,"l":57,"t":10,"v":50},{"c":3,"l":57,"t":11,"v":60},{"c":3,"l":57,"t":12,"v":70},{"c":3,"l":57,"t":13,"v":82},{"c":3,"l":57,"t":14,"v":95},{"c":3,"l":57,"t":15,"v":108},{"c":3,"l":57,"t":16,"v":120},{"c":3,"l":57,"t":17,"v":135},{"c":3,"l":57,"t":18,"v":148},
{"c":3,"l":58,"t":2,"v":0},{"c":3,"l":58,"t":3,"v":0},{"c":3,"l":58,"t":4,"v":6},{"c":3,"l":58,"t":5,"v":14},{"c":3,"l":58,"t":6,"v":22},{"c":3,"l":58,"t":7,"v":30},{"c":3,"l":58,"t":8,"v":38},{"c":3,"l":58,"t":9,"v":45},{"c":3,"l":58,"t":10,"v":55},{"c":3,"l":58,"t":11,"v":65},{"c":3,"l":58,"t":12,"v":78},{"c":3,"l":58,"t":13,"v":90},{"c":3,"l":58,"t":14,"v":105},{"c":3,"l":58,"t":15,"v":120},{"c":3,"l":58,"t":16,"v":138},{"c":3,"l":58,"t":17,"v":155},{"c":3,"l":58,"t":18,"v":170},
{"c":3,"l":59,"t":2,"v":0},{"c":3,"l":59,"t":3,"v":13},{"c":3,"l":59,"t":4,"v":13},{"c":3,"l":59,"t":5,"v":16},{"c":3,"l":59,"t":6,"v":20},{"c":3,"l":59,"t":7,"v":26},{"c":3,"l":59,"t":8,"v":32},{"c":3,"l":59,"t":9,"v":40},{"c":3,"l":59,"t":10,"v":48},{"c":3,"l":59,"t":11,"v":58},{"c":3,"l":59,"t":12,"v":68},{"c":3,"l":59,"t":13,"v":80},{"c":3,"l":59,"t":14,"v":92},{"c":3,"l":59,"t":15,"v":104},{"c":3,"l":59,"t":16,"v":116},{"c":3,"l":59,"t":17,"v":130},{"c":3,"l":59,"t":18,"v":145},
{"c":3,"l":60,"t":2,"v":0},{"c":3,"l":60,"t":3,"v":0},{"c":3,"l":60,"t":4,"v":1},{"c":3,"l":60,"t":5,"v":5},{"c":3,"l":60,"t":6,"v":10},{"c":3,"l":60,"t":7,"v":18},{"c":3,"l":60,"t":8,"v":28},{"c":3,"l":60,"t":9,"v":38},{"c":3,"l":60,"t":10,"v":48},{"c":3,"l":60,"t":11,"v":56},{"c":3,"l":60,"t":12,"v":66},{"c":3,"l":60,"t":13,"v":76},{"c":3,"l":60,"t":14,"v":88},{"c":3,"l":60,"t":15,"v":100},{"c":3,"l":60,"t":16,"v":114},{"c":3,"l":60,"t":17,"v":126},{"c":3,"l":60,"t":18,"v":140},
{"c":4,"l":61,"t":2,"v":0},{"c":4,"l":61,"t":3,"v":2},{"c":4,"l":61,"t":4,"v":5},{"c":4,"l":61,"t":5,"v":8},{"c":4,"l":61,"t":6,"v":12},{"c":4,"l":61,"t":7,"v":17},{"c":4,"l":61,"t":8,"v":22},{"c":4,"l":61,"t":9,"v":27},{"c":4,"l":61,"t":10,"v":31},{"c":4,"l":61,"t":11,"v":36},{"c":4,"l":61,"t":12,"v":42},{"c":4,"l":61,"t":13,"v":46},{"c":4,"l":61,"t":14,"v":60},{"c":4,"l":61,"t":15,"v":75},{"c":4,"l":61,"t":16,"v":184},{"c":4,"l":61,"t":17,"v":210},{"c":4,"l":61,"t":18,"v":214}
]},
"mark":{"type":"line","strokeWidth":1.2,"clip":true},
"encoding":{
"x":{"field":"t","type":"quantitative","scale":{"domain":[0,18],"nice":false,"zero":false},"axis":{"values":[0,2,4,6,8,10,12,14,16,18],"title":"time","labelFlush":false,"labelPadding":10,"titlePadding":2,"labelOffset":{"condition":{"test":"datum.value == 18","value":-3},"value":0}}},
"y":{"field":"v","type":"quantitative","scale":{"domain":[0,250],"nice":false},"axis":{"values":[0,50,100,150,200,250],"title":"number of inputs","labelPadding":9,"titlePadding":5}},
"color":{"field":"c","type":"nominal","scale":{"domain":[0,1,2,3,4],"range":["#ff0000","#0000ff","#008000","#000000","#bf00bf"]},"legend":{"title":null,"labelExpr":"'cluster' + datum.label"}},
"detail":{"field":"l","type":"nominal"}
}},
{"data":{"values":[{"t":0,"v":0},{"t":18,"v":250}]},
"mark":{"type":"point","opacity":0},
"encoding":{
"x":{"field":"t","type":"quantitative","axis":{"orient":"top","values":[0,2,4,6,8,10,12,14,16,18],"labels":false,"title":null}},
"y":{"field":"v","type":"quantitative","axis":{"orient":"right","values":[0,50,100,150,200,250],"labels":false,"title":null}}
}}
],
"resolve":{"axis":{"x":"independent","y":"independent"}}
}
